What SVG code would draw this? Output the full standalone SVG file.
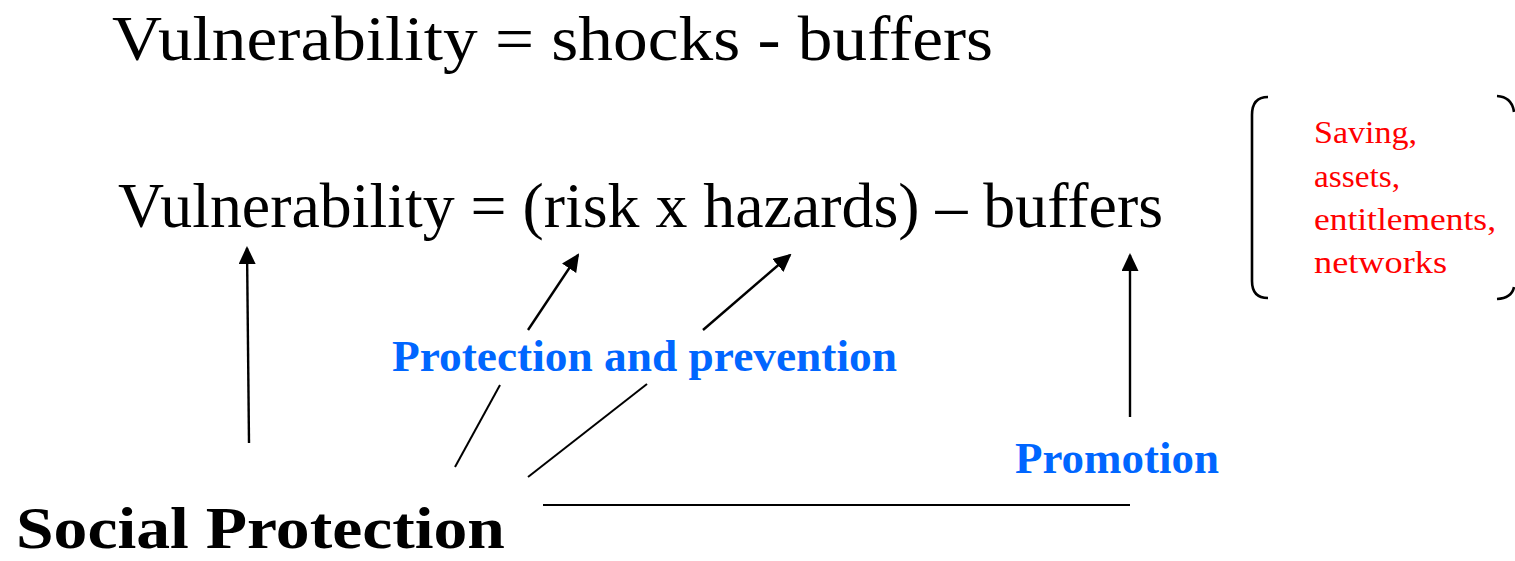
<svg xmlns="http://www.w3.org/2000/svg" width="1515" height="561" viewBox="0 0 1515 561">
<style>
.eq{font-family:"Liberation Serif","Times New Roman",serif;font-size:64px;fill:#000}
.blue{font-family:"Liberation Serif","Times New Roman",serif;font-size:44px;font-weight:bold;fill:#0066FF}
.big{font-family:"Liberation Serif","Times New Roman",serif;font-size:60px;font-weight:bold;fill:#000}
.red{font-family:"Liberation Serif","Times New Roman",serif;font-size:32px;fill:#FF0000}
.ln{stroke:#000;stroke-width:2;fill:none}
.up{stroke:#000;stroke-width:2.4;fill:none}
.br{stroke:#000;stroke-width:2.6;fill:none}
</style>
<defs>
<marker id="ah" markerUnits="userSpaceOnUse" markerWidth="18" markerHeight="17" refX="16" refY="8.5" orient="auto" viewBox="0 0 18 17">
<path d="M0,0 L18,8.5 L0,17 z" fill="#000"/>
</marker>
</defs>
<g id="eq1"><text class="eq" x="112" y="60" textLength="881" lengthAdjust="spacingAndGlyphs">Vulnerability = shocks - buffers</text></g>
<g id="eq2"><text class="eq" x="118" y="227" textLength="1045" lengthAdjust="spacingAndGlyphs">Vulnerability = (risk x hazards) – buffers</text></g>
<g id="buffers-box">
<path class="br" d="M1268,97 Q1252,97 1252,115 L1252,281 Q1252,298 1268,298"/>
<path class="br" d="M1497,96 Q1512,97 1514,112 M1514,287 Q1512,298 1497,299"/>
<text class="red" x="1314" y="143" textLength="103" lengthAdjust="spacingAndGlyphs">Saving,</text>
<text class="red" x="1314" y="187" textLength="86" lengthAdjust="spacingAndGlyphs">assets,</text>
<text class="red" x="1314" y="230" textLength="182" lengthAdjust="spacingAndGlyphs">entitlements,</text>
<text class="red" x="1314" y="273" textLength="133" lengthAdjust="spacingAndGlyphs">networks</text>
</g>
<g id="protection-label"><text class="blue" x="392" y="371" textLength="505" lengthAdjust="spacingAndGlyphs">Protection and prevention</text></g>
<g id="promotion-label"><text class="blue" x="1015" y="473" textLength="204" lengthAdjust="spacingAndGlyphs">Promotion</text></g>
<g id="social-protection"><text class="big" x="16" y="548" textLength="489" lengthAdjust="spacingAndGlyphs">Social Protection</text></g>
<g id="connectors">
<line class="up" x1="249" y1="443" x2="247" y2="248" marker-end="url(#ah)"/>
<line class="ln" x1="455" y1="467" x2="500" y2="385"/>
<line class="up" x1="528" y1="330" x2="578" y2="255" marker-end="url(#ah)"/>
<line class="ln" x1="528" y1="477" x2="647" y2="384"/>
<line class="up" x1="703" y1="330" x2="790" y2="255" marker-end="url(#ah)"/>
<line class="up" x1="1130" y1="417" x2="1130" y2="255" marker-end="url(#ah)"/>
<line class="ln" x1="543" y1="505" x2="1130" y2="505"/>
</g>
</svg>
